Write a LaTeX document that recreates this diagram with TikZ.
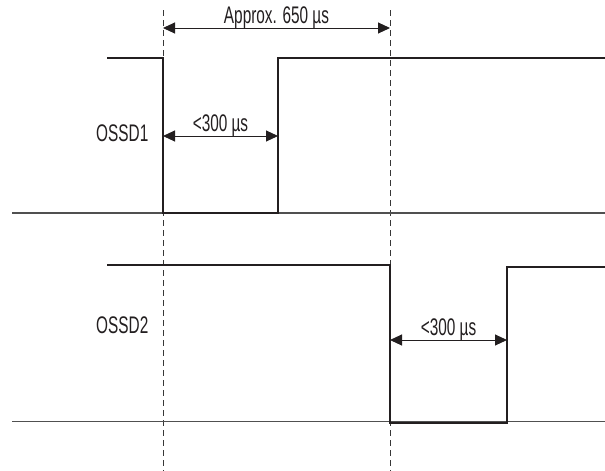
\documentclass[tikz,border=0pt]{standalone}
\usepackage{fontspec}
\setmainfont[FakeStretch=0.64]{Liberation Sans}
\usepackage{tikz}
\usetikzlibrary{arrows.meta, positioning, calc}
\definecolor{sigdark}{RGB}{35,31,32}
\definecolor{basegray}{RGB}{80,80,80}
\definecolor{guidegray}{RGB}{55,55,55}
\tikzset{
  signal/.style={line width=2.4pt, color=sigdark, line join=miter},
  baseline/.style={line width=1.2pt, color=basegray},
  guide/.style={dashed, dash pattern=on 6pt off 4pt, line width=1pt, color=guidegray},
  dimarrow/.style={{Triangle[length=12pt, width=11pt]}-{Triangle[length=12pt, width=11pt]},
    line width=1pt, color=sigdark},
  lbl/.style={font=\fontsize{24}{27}\selectfont, text=sigdark, inner sep=1.5pt}
}

\begin{document}
\begin{tikzpicture}[x=1pt, y=-1pt]
  \useasboundingbox (0,0) rectangle (605,471);

  % Dashed guide lines
  \draw[guide] (163,10) -- (163,471);
  \draw[guide] (390,10) -- (390,471);

  % Base lines
  \draw[baseline] (12,213) -- (605,213);
  \draw[baseline] (12,421.5) -- (605,421.5);

  % OSSD1 pulse
  \draw[signal] (107,58) -- (163,58) -- (163,213) -- (278,213) -- (278,58) -- (605,58);
  % OSSD2 pulse
  \draw[signal] (107,265) -- (390,265) -- (390,423) -- (507,423) -- (507,267) -- (605,267);

  % Named ends of the dimension arrows
  \coordinate (tA) at (163,28);
  \coordinate (tB) at (390,28);
  \coordinate (pA) at (163,136);
  \coordinate (pB) at (278,136);
  \coordinate (qA) at (390,340);
  \coordinate (qB) at (507,340);

  % Approx. 650 us
  \draw[dimarrow] (tA) -- (tB) node[midway, above, lbl, yshift=-2pt] (total) {Approx. 650 µs};
  % Pulse widths
  \draw[dimarrow] (pA) -- (pB) node[midway, above, lbl, yshift=-2pt] (width1) {<300 µs};
  \draw[dimarrow] (qA) -- (qB) node[midway, above, lbl, yshift=-2pt] (width2) {<300 µs};

  % Signal names
  \node[lbl, left] (ossd1) at (150,133) {OSSD1};
  \node[lbl, left] (ossd2) at (150,325) {OSSD2};
\end{tikzpicture}
\end{document}
